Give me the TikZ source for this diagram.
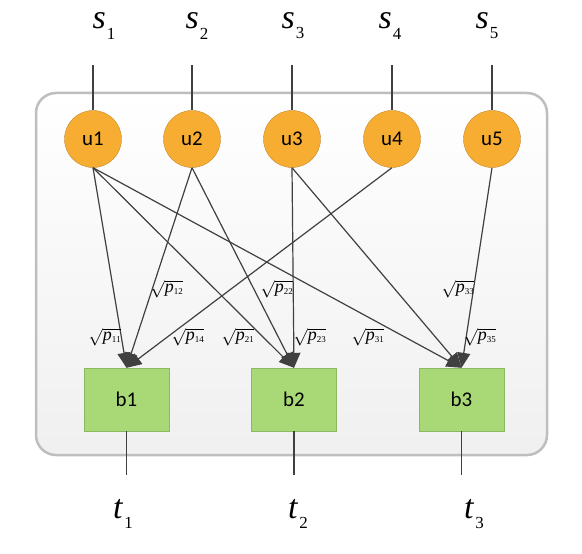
\documentclass[tikz,border=0pt]{standalone}
\usepackage{fontspec}
\setmainfont{Liberation Serif}
\newfontfamily\calib{Carlito}
\usetikzlibrary{arrows.meta,positioning}

\definecolor{uorange}{RGB}{247,173,50}
\definecolor{uedge}{RGB}{196,138,44}
\definecolor{bgreen}{RGB}{169,217,119}
\definecolor{bedge}{RGB}{140,186,98}
\definecolor{panelrim}{RGB}{190,190,190}
\definecolor{wire}{RGB}{64,64,64}

\newcommand{\wgt}[1]{$\sqrt{\mathit{p}_{\scriptscriptstyle\mathrm{#1}}}$}
\newcommand{\port}[2]{\textit{#1}\kern1bp\raisebox{-0.3em}{\fontsize{17}{17}\selectfont #2}}

\begin{document}
\begin{tikzpicture}[x=1bp, y=-1bp,
                    user/.style={circle, draw=uedge, fill=uorange, minimum size=57bp,
                                 inner sep=0pt, font=\calib\fontsize{21}{21}\selectfont},
                    bs/.style={rectangle, draw=bedge, fill=bgreen, minimum width=85bp,
                               minimum height=63bp, font=\calib\fontsize{21}{21}\selectfont},
                    wlabel/.style={inner sep=0pt, font=\fontsize{18}{18}\selectfont},
                    portlabel/.style={inner sep=0pt, font=\fontsize{34}{34}\selectfont},
                    every edge/.style={draw=wire, line width=1.2bp}]
    \useasboundingbox (0,0) rectangle (582,554);

    % panel
    \draw[panelrim, line width=2.5bp, rounded corners=20bp, top color=white, bottom color=black!6]
        (36,93) rectangle (547,455);

    % users and base stations
    \node[user] (u1) at (93,139) {u1};
    \node[user] (u2) at (192,139) {u2};
    \node[user] (u3) at (292,139) {u3};
    \node[user] (u4) at (392,139) {u4};
    \node[user] (u5) at (492,139) {u5};

    \node[bs] (b1) at (126.5,399.5) {b1};
    \node[bs] (b2) at (294,399.5) {b2};
    \node[bs] (b3) at (461.5,399.5) {b3};

    % inputs and outputs
    \node[portlabel] (s1) at (104,26) {\port{s}{1}};
    \node[portlabel] (s2) at (197,26) {\port{s}{2}};
    \node[portlabel] (s3) at (293,26) {\port{s}{3}};
    \node[portlabel] (s4) at (390,26) {\port{s}{4}};
    \node[portlabel] (s5) at (487,26) {\port{s}{5}};
    \coordinate (in1) at (93,65);
    \coordinate (in2) at (192,65);
    \coordinate (in3) at (292,65);
    \coordinate (in4) at (392,65);
    \coordinate (in5) at (492,65);

    \node[portlabel] (t1) at (123,514) {\port{t}{1}};
    \node[portlabel] (t2) at (298,514) {\port{t}{2}};
    \node[portlabel] (t3) at (474,514) {\port{t}{3}};
    \coordinate (out1) at (126.5,475);
    \coordinate (out2) at (294,475);
    \coordinate (out3) at (461.5,475);

    \path
    (in1) edge (u1.north)
    (in2) edge (u2.north)
    (in3) edge (u3.north)
    (in4) edge (u4.north)
    (in5) edge (u5.north)
    (b1.south) edge (out1)
    (b2.south) edge (out2)
    (b3.south) edge (out3);

    % links
    \path[-{Triangle[length=15bp, width=13bp]}]
    (u1.south) edge (b1.north)
    (u1.south) edge (b2.north)
    (u1.south) edge (b3.north)
    (u2.south) edge (b1.north)
    (u2.south) edge (b2.north)
    (u3.south) edge (b2.north)
    (u3.south) edge (b3.north)
    (u4.south) edge (b1.north)
    (u5.south) edge (b3.north);

    % gains
    \node[wlabel] (w12) at (167,289) {\wgt{12}};
    \node[wlabel] (w22) at (277,289) {\wgt{22}};
    \node[wlabel] (w33) at (458,289) {\wgt{33}};
    \node[wlabel] (w11) at (105,337) {\wgt{11}};
    \node[wlabel] (w14) at (188,337) {\wgt{14}};
    \node[wlabel] (w21) at (238,337) {\wgt{21}};
    \node[wlabel] (w23) at (310,337) {\wgt{23}};
    \node[wlabel] (w31) at (368,337) {\wgt{31}};
    \node[wlabel] (w35) at (480,337) {\wgt{35}};
\end{tikzpicture}
\end{document}
